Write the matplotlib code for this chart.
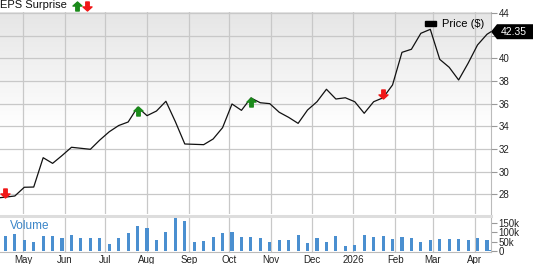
import numpy as np
import pandas as pd
import matplotlib
matplotlib.use("Agg")
import matplotlib.pyplot as plt
import matplotlib.dates as mdates
from matplotlib.path import Path
from matplotlib.patches import Patch, Polygon

plt.rcParams['font.family'] = ['Liberation Sans', 'DejaVu Sans']

# weekly data, plus one partial week at the end
week_dates = list(pd.date_range("2025-04-18", periods=52, freq="7D")) + [pd.Timestamp("2026-04-13")]

price = [27.75, 27.85, 28.62, 28.64, 31.23, 30.73, 31.42, 32.15, 32.06, 31.97,
         32.79, 33.52, 34.07, 34.38, 35.68, 34.94, 35.35, 36.21, 34.41, 32.44,
         32.41, 32.38, 32.88, 33.88, 35.97, 35.41, 36.50, 36.08, 36.00, 35.24,
         34.79, 34.26, 35.44, 36.17, 37.27, 36.41, 36.52, 36.17, 35.15, 36.17,
         36.52, 37.65, 40.53, 40.80, 42.21, 42.56, 39.91, 39.21, 38.09, 39.56,
         41.18, 42.12, 42.35]
price_start_date = pd.Timestamp("2025-04-14")
price_start = 27.7

volume = [77, 90, 57, 50, 79, 77, 68, 84, 68, 68,
          68, 38, 68, 97, 134, 124, 59, 98, 172, 160,
          48, 52, 72, 97, 102, 72, 75, 70, 50, 59,
          57, 86, 45, 68, 48, 81, 27, 32, 84, 74,
          77, 65, 72, 68, 46, 57, 65, 63, 66, 57,
          68, 57, 5]
volume = [v * 1000 for v in volume]

# EPS surprise markers (week index)
beats = [14, 26]
misses = [0, 40]

last_price = 42.35
month_ticks = pd.date_range("2025-05-01", "2026-04-01", freq="MS")
month_labels = ["May", "Jun", "Jul", "Aug", "Sep", "Oct", "Nov", "Dec", "2026", "Feb", "Mar", "Apr"]
price_ticks = [28, 30, 32, 34, 36, 38, 40, 42, 44]
price_labels = ["28", "30", "32", "34", "36", "38", "40", "", "44"]  # 42 hidden under the tag
vol_ticks = [0, 50000, 100000, 150000]
vol_labels = ["0", "50k", "100k", "150k"]

grid_c = "#c8c8c8"
bar_c = "#4a8fd0"
green = "#1a8a1a"
red = "#f01818"

up_arrow = Path([(0, 1), (1, 0.1), (0.38, 0.1), (0.38, -1), (-0.38, -1),
                 (-0.38, 0.1), (-1, 0.1), (0, 1)], closed=True)
down_arrow = Path([(x, -y) for x, y in up_arrow.vertices], closed=True)

W, H = 533, 264
fig = plt.figure(figsize=(W / 100, H / 100), dpi=100)
ax = fig.add_axes([0, 1 - 214 / H, 491 / W, 202 / H])
axv = fig.add_axes([0, 1 - 252 / H, 491 / W, 36 / H], sharex=ax)

xmin = mdates.date2num(pd.Timestamp("2025-04-14"))
xmax = mdates.date2num(pd.Timestamp("2026-04-13"))

# price panel, grey-to-white background
grad = np.clip(np.linspace(0, 1, 200) / 0.58, 0, 1)
img = np.ones((200, 1, 3))
img[:, 0, :] = (0.90 + 0.10 * grad)[:, None]
ax.imshow(img, extent=[0, 1, 0, 1], transform=ax.transAxes, aspect="auto", zorder=0)

px = [price_start_date] + week_dates
py = [price_start] + price
ax.plot(px, py, color="#111111", lw=0.9, zorder=3)

for i in beats:
    ax.plot(week_dates[i], price[i] - 0.35, marker=up_arrow, ms=6.5, color=green,
            mec=green, zorder=4)
for i in misses:
    ax.plot(week_dates[i], price[i] + 0.35, marker=down_arrow, ms=6.5, color=red,
            mec=red, zorder=4, clip_on=False)

ax.set_xlim(xmin, xmax)
ax.set_ylim(26.26, 44.09)
ax.set_yticks(price_ticks)
ax.set_yticklabels(price_labels)
ax.yaxis.tick_right()
ax.tick_params(axis="y", length=4, color="#999999", labelsize=7, labelcolor="#222222", pad=1.5)
ax.tick_params(axis="x", length=0, labelbottom=False)
ax.set_xticks(mdates.date2num(month_ticks))
ax.grid(True, color=grid_c, lw=0.9)
ax.set_axisbelow(False)
for s in ["left", "top", "bottom"]:
    ax.spines[s].set_visible(False)
ax.spines["right"].set_color("#bbbbbb")

ax.legend(handles=[Patch(facecolor="black", edgecolor="black", label="Price ($)")],
          loc="upper right", bbox_to_anchor=(0.995, 0.985), frameon=False, fontsize=8,
          handlelength=1.0, handleheight=0.35, handletextpad=0.5, borderaxespad=0)

# last price tag
y_tag = ax.transData.transform((0, last_price))[1]
tip = 491
poly = Polygon([(tip, y_tag), (tip + 6, y_tag + 7.5), (W, y_tag + 7.5),
                (W, y_tag - 7.5), (tip + 6, y_tag - 7.5)], closed=True,
               transform=None, facecolor="black", edgecolor="none", zorder=10)
fig.patches.append(poly)
fig.text((tip + 23) / W, y_tag / H, f"{last_price:.2f}", color="white", fontsize=7.5,
         ha="center", va="center", zorder=11)

# header
fig.text(0, 1 - 5.5 / H, "EPS Surprise", fontsize=8, va="center", ha="left", color="#111111")
fig.add_artist(plt.Line2D([77 / W], [1 - 5.5 / H], marker=up_arrow, ms=6.5, color=green,
                          mec=green, transform=fig.transFigure))
fig.add_artist(plt.Line2D([87 / W], [1 - 5.5 / H], marker=down_arrow, ms=6.5, color=red,
                          mec=red, transform=fig.transFigure))

# volume panel
axv.bar(week_dates, volume, width=2.3, color=bar_c, zorder=3)
axv.set_ylim(-5000, 185000)
axv.set_yticks(vol_ticks)
axv.set_yticklabels(vol_labels)
axv.yaxis.tick_right()
axv.tick_params(axis="y", length=4, color="#999999", labelsize=7, labelcolor="#222222", pad=1.5)
axv.set_xticks(mdates.date2num(month_ticks))
axv.set_xticklabels(month_labels)
axv.tick_params(axis="x", length=0, labelsize=7, labelcolor="#222222", pad=2)
axv.grid(True, axis="x", color=grid_c, lw=0.9)
axv.set_axisbelow(True)
axv.spines["left"].set_visible(False)
axv.spines["top"].set_color("#dddddd")
axv.spines["top"].set_linewidth(2.2)
axv.spines["bottom"].set_color("#bbbbbb")
axv.spines["right"].set_color("#bbbbbb")
axv.text(10 / 491, 0.72, "Volume", transform=axv.transAxes, color="#3a85c8", fontsize=8.5,
         va="center", ha="left")

fig.savefig("out.png", dpi=100)
